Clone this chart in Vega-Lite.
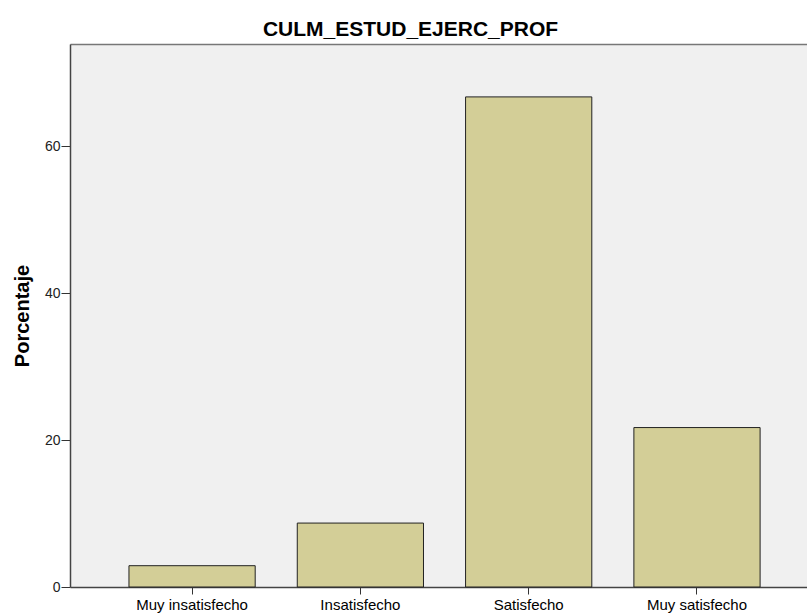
{
  "$schema": "https://vega.github.io/schema/vega-lite/v6.json",
  "autosize": {"type": "none"},
  "padding": {"left": 70, "top": 44, "right": 0, "bottom": 26},
  "width": 737,
  "height": 543,
  "background": "white",
  "title": {
    "text": "CULM_ESTUD_EJERC_PROF",
    "fontSize": 21,
    "font": "Liberation Sans",
    "fontWeight": "bold",
    "color": "#000000",
    "anchor": "middle",
    "dx": -28,
    "dy": 20,
    "offset": 7,
    "baseline": "alphabetic"
  },
  "data": {
    "values": [
      {"categoria": "Muy insatisfecho", "porcentaje": 2.9},
      {"categoria": "Insatisfecho", "porcentaje": 8.7},
      {"categoria": "Satisfecho", "porcentaje": 66.7},
      {"categoria": "Muy satisfecho", "porcentaje": 21.7}
    ]
  },
  "config": {
    "view": {"fill": "#F0F0F0", "stroke": null},
    "font": "Liberation Sans"
  },
  "layer": [
    {
      "mark": {"type": "bar", "fill": "#D3CE97", "stroke": "#222222", "strokeWidth": 1},
      "encoding": {
        "x": {
          "field": "categoria",
          "type": "nominal",
          "sort": ["Muy insatisfecho", "Insatisfecho", "Satisfecho", "Muy satisfecho"],
          "scale": {"paddingInner": 0.25, "paddingOuter": 0.3145, "align": 0.557},
          "axis": {
            "title": null,
            "labelFontSize": 15,
            "labelColor": "#000000",
            "labelAngle": 0,
            "tickSize": 7,
            "tickColor": "#333333",
            "labelPadding": 3,
            "domainColor": "#444444",
            "domainWidth": 1.5
          }
        },
        "y": {
          "field": "porcentaje",
          "type": "quantitative",
          "scale": {"domain": [0, 73.9], "nice": false, "zero": true},
          "axis": {
            "title": "Porcentaje",
            "titleFontSize": 20,
            "titleFontWeight": "bold",
            "titleColor": "#000000",
            "values": [0, 20, 40, 60],
            "grid": false,
            "labelFontSize": 14,
            "labelColor": "#222222",
            "tickColor": "#333333",
            "tickSize": 9,
            "labelPadding": 1,
            "domainColor": "#444444",
            "domainWidth": 1.5,
            "titlePadding": 12
          }
        }
      }
    },
    {
      "mark": {"type": "bar", "opacity": 0},
      "encoding": {
        "x": {
          "field": "categoria",
          "type": "nominal",
          "sort": ["Muy insatisfecho", "Insatisfecho", "Satisfecho", "Muy satisfecho"],
          "axis": {
            "orient": "top",
            "labels": false,
            "ticks": false,
            "title": null,
            "domain": true,
            "domainColor": "#777777",
            "domainWidth": 1.5
          }
        }
      }
    }
  ],
  "resolve": {"axis": {"x": "independent"}}
}
